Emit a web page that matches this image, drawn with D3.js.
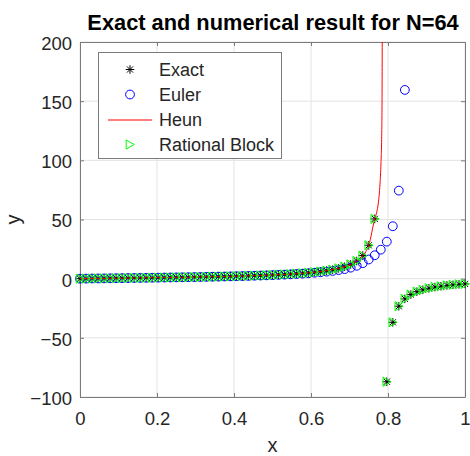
<!DOCTYPE html>
<html>
<head>
<meta charset="utf-8">
<script src="https://cdn.jsdelivr.net/npm/d3@7"></script>
<style>
  body { margin: 0; background: #fff; }
  svg { display: block; font-family: "Liberation Sans", Arial, sans-serif; }
</style>
</head>
<body>
<div id="chart"></div>
<script>
// grid x = i/64, i = 0..64
var xGrid = [0, .0156, .0313, .0469, .0625, .0781, .0938, .1094, .125, .1406,
  .1563, .1719, .1875, .2031, .2188, .2344, .25, .2656, .2813, .2969,
  .3125, .3281, .3438, .3594, .375, .3906, .4063, .4219, .4375, .4531,
  .4688, .4844, .5, .5156, .5313, .5469, .5625, .5781, .5938, .6094,
  .625, .6406, .6563, .6719, .6875, .7031, .7188, .7344, .75, .7656,
  .7813, .7969, .8125, .8281, .8438, .8594, .875, .8906, .9063, .9219,
  .9375, .9531, .9688, .9844, 1];

var exactY = [0, 0.06, 0.13, 0.19, 0.25, 0.32, 0.38, 0.44, 0.51, 0.58,
  0.65, 0.72, 0.79, 0.86, 0.94, 1.01, 1.09, 1.18, 1.26, 1.35,
  1.44, 1.54, 1.64, 1.75, 1.86, 1.98, 2.11, 2.25, 2.40, 2.55,
  2.72, 2.91, 3.11, 3.34, 3.59, 3.87, 4.19, 4.55, 4.96, 5.44,
  6.02, 6.71, 7.57, 8.66, 10.08, 12.04, 14.92, 19.53, 28.2, 50.5,
  241, -87.1, -36.9, -23.3, -17.1, -13.4, -11.0, -9.4, -8.1, -7.1,
  -6.4, -5.7, -5.2, -4.8, -4.4];

// euler blows up after x = 0.84
var eulerY = [0, 0.06, 0.13, 0.19, 0.25, 0.31, 0.38, 0.44, 0.51, 0.58,
  0.64, 0.71, 0.78, 0.85, 0.93, 1.00, 1.08, 1.16, 1.25, 1.33,
  1.42, 1.52, 1.62, 1.72, 1.83, 1.94, 2.07, 2.19, 2.33, 2.48,
  2.64, 2.81, 2.99, 3.20, 3.42, 3.67, 3.94, 4.24, 4.59, 4.98,
  5.43, 5.95, 6.56, 7.30, 8.1, 9.3, 10.9, 13.1, 16.2, 19.8,
  24.5, 31.3, 44.3, 74.4, 159.5];

var heunXTail = [0.7706, 0.7749, 0.7792, 0.7818, 0.7836, 0.7845, 0.785, 0.7853];
var heunY = [0, 0.06, 0.13, 0.19, 0.25, 0.32, 0.38, 0.44, 0.51, 0.58,
  0.65, 0.72, 0.79, 0.86, 0.94, 1.01, 1.09, 1.18, 1.26, 1.35,
  1.44, 1.54, 1.64, 1.75, 1.86, 1.98, 2.11, 2.25, 2.40, 2.55,
  2.72, 2.91, 3.11, 3.34, 3.59, 3.87, 4.19, 4.55, 4.96, 5.44,
  6.02, 6.71, 7.57, 8.66, 10.08, 12.04, 14.92, 19.53, 28.2, 50.5,
  56, 64, 80, 98, 120, 150, 200, 260];

var rationalY = [0, 0.06, 0.13, 0.19, 0.25, 0.32, 0.38, 0.44, 0.51, 0.58,
  0.65, 0.72, 0.79, 0.86, 0.94, 1.01, 1.09, 1.18, 1.26, 1.35,
  1.44, 1.54, 1.64, 1.75, 1.86, 1.98, 2.11, 2.25, 2.40, 2.55,
  2.72, 2.91, 3.11, 3.34, 3.59, 3.87, 4.19, 4.55, 4.96, 5.44,
  6.02, 6.71, 7.57, 8.66, 10.08, 12.04, 14.92, 19.53, 28.2, 50.5,
  241, -87.1, -36.9, -23.3, -17.1, -13.4, -11.0, -9.4, -8.1, -7.1,
  -6.4, -5.7, -5.2, -4.8, -4.4];

var xTicks = [0, 0.2, 0.4, 0.6, 0.8, 1];
var yTicks = [-100, -50, 0, 50, 100, 150, 200];
var legendLabels = ["Exact", "Euler", "Heun", "Rational Block"];

var WIDTH = 470, HEIGHT = 456;
var plotL = 80, plotR = 465, plotT = 42, plotB = 397;

var x = d3.scaleLinear().domain([0, 1]).range([plotL, plotR]);
var y = d3.scaleLinear().domain([-100, 200]).range([plotB, plotT]);

var svg = d3.select('#chart').append('svg')
  .attr('width', WIDTH).attr('height', HEIGHT);

svg.append('defs').append('clipPath').attr('id', 'clip')
  .append('rect').attr('x', plotL).attr('y', plotT)
  .attr('width', plotR - plotL).attr('height', plotB - plotT);

// grid
svg.append('g').selectAll('line').data(xTicks).enter().append('line')
  .attr('x1', d => x(d)).attr('x2', d => x(d))
  .attr('y1', plotT).attr('y2', plotB)
  .attr('stroke', '#e3e3e3').attr('stroke-width', 1);
svg.append('g').selectAll('line').data(yTicks).enter().append('line')
  .attr('x1', plotL).attr('x2', plotR)
  .attr('y1', d => y(d)).attr('y2', d => y(d))
  .attr('stroke', '#e3e3e3').attr('stroke-width', 1);

// axes (box with inward ticks)
var fmt = d3.format('');
function styleAxis(g) {
  g.select('.domain').attr('stroke', '#7a7a7a');
  g.selectAll('.tick line').attr('stroke', '#7a7a7a');
  g.selectAll('.tick text').attr('fill', '#262626')
    .style('font-size', '18.5px').style('font-family', '"Liberation Sans", Arial, sans-serif');
}
svg.append('g').attr('transform', 'translate(0,' + plotB + ')')
  .call(d3.axisBottom(x).tickValues(xTicks).tickFormat(fmt).tickSize(-4).tickSizeOuter(0).tickPadding(15))
  .call(styleAxis);
svg.append('g').attr('transform', 'translate(0,' + plotT + ')')
  .call(d3.axisTop(x).tickValues(xTicks).tickFormat('').tickSize(-4).tickSizeOuter(0))
  .call(styleAxis);
svg.append('g').attr('transform', 'translate(' + plotL + ',0)')
  .call(d3.axisLeft(y).tickValues(yTicks).tickFormat(fmt).tickSize(-4).tickSizeOuter(0).tickPadding(8))
  .call(styleAxis)
  .selectAll('.tick text').attr('dy', '0.4em');
svg.append('g').attr('transform', 'translate(' + plotR + ',0)')
  .call(d3.axisRight(y).tickValues(yTicks).tickFormat('').tickSize(-4).tickSizeOuter(0))
  .call(styleAxis);

// marker shapes
var starPath = 'M-4.3,0L4.3,0M0,-4.3L0,4.3M-3.1,-3.1L3.1,3.1M-3.1,3.1L3.1,-3.1';
var triPath = 'M-3.8,-4.6L-3.8,4.6L4.2,0Z';

function inView(v) { return v >= -100 && v <= 200; }

var exactPts = xGrid.map((d, i) => [d, exactY[i]]).filter(p => inView(p[1]));
var eulerPts = eulerY.map((d, i) => [xGrid[i], d]).filter(p => inView(p[1]));
var heunPts = xGrid.slice(0, 50).concat(heunXTail).map((d, i) => [d, heunY[i]]);
var ratPts = xGrid.map((d, i) => [d, rationalY[i]]).filter(p => inView(p[1]));

// exact
svg.append('g').selectAll('path').data(exactPts).enter().append('path')
  .attr('d', starPath)
  .attr('transform', d => 'translate(' + x(d[0]) + ',' + y(d[1]) + ')')
  .attr('stroke', '#000').attr('stroke-width', 1).attr('fill', 'none');

// euler
svg.append('g').selectAll('circle').data(eulerPts).enter().append('circle')
  .attr('cx', d => x(d[0])).attr('cy', d => y(d[1])).attr('r', 4.4)
  .attr('stroke', '#0000ff').attr('stroke-width', 1).attr('fill', 'none');

// heun
var heunLine = d3.line().curve(d3.curveMonotoneX).x(d => x(d[0])).y(d => y(d[1]));
svg.append('path').datum(heunPts)
  .attr('clip-path', 'url(#clip)')
  .attr('d', heunLine)
  .attr('stroke', '#ff0000').attr('stroke-width', 1).attr('fill', 'none');

// rational block
svg.append('g').selectAll('path').data(ratPts).enter().append('path')
  .attr('d', triPath)
  .attr('transform', d => 'translate(' + x(d[0]) + ',' + y(d[1]) + ')')
  .attr('stroke', '#00ff00').attr('stroke-width', 1).attr('fill', 'none');

// legend
var lg = svg.append('g');
lg.append('rect').attr('x', 98.5).attr('y', 52.5).attr('width', 183).attr('height', 106)
  .attr('fill', '#fff').attr('stroke', '#7a7a7a').attr('stroke-width', 1);
var rows = lg.selectAll('g.row').data(legendLabels).enter().append('g')
  .attr('class', 'row')
  .attr('transform', (d, i) => 'translate(0,' + (69.5 + i * 25) + ')');
rows.append('text').attr('x', 159).attr('dy', '0.36em')
  .style('font-size', '18px').attr('fill', '#262626')
  .text(d => d);
rows.filter((d, i) => i === 0).append('path').attr('d', starPath)
  .attr('transform', 'translate(130,0)').attr('stroke', '#000').attr('fill', 'none');
rows.filter((d, i) => i === 1).append('circle').attr('cx', 130).attr('r', 4.4)
  .attr('stroke', '#0000ff').attr('fill', 'none');
rows.filter((d, i) => i === 2).append('path').attr('d', 'M108,0.5L152,0.5')
  .style('stroke', '#ff0000').style('stroke-width', '1.2px').style('fill', 'none');
rows.filter((d, i) => i === 3).append('path').attr('d', triPath)
  .attr('transform', 'translate(130,0)').attr('stroke', '#00ff00').attr('fill', 'none');

// title and labels
svg.append('text').attr('x', 273).attr('y', 30).attr('text-anchor', 'middle')
  .style('font-size', '21.8px').style('font-weight', 'bold').attr('fill', '#000')
  .text('Exact and numerical result for N=64');
svg.append('text').attr('x', 272.5).attr('y', 452).attr('text-anchor', 'middle')
  .style('font-size', '20px').attr('fill', '#262626').text('x');
svg.append('text').attr('transform', 'translate(20,219.5) rotate(-90)')
  .attr('text-anchor', 'middle')
  .style('font-size', '20px').attr('fill', '#262626').text('y');
</script>
</body>
</html>
